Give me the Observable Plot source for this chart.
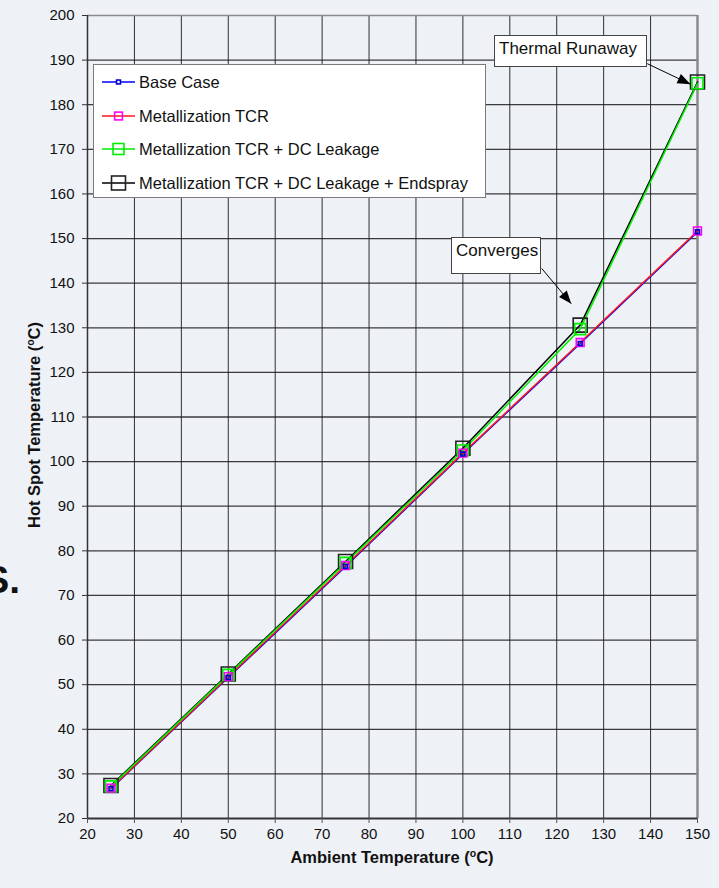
<!DOCTYPE html>
<html>
<head>
<meta charset="utf-8">
<script src="https://cdn.jsdelivr.net/npm/d3@7"></script>
<script src="https://cdn.jsdelivr.net/npm/@observablehq/plot@0.6"></script>
<style>
  html, body { margin: 0; padding: 0; background: #eef2f7; }
  #wrap { position: relative; width: 719px; height: 888px; overflow: hidden; font-family: "Liberation Sans", Arial, sans-serif; }
  #wrap svg.plot { position: absolute; left: 0; top: 0; }
  .box { position: absolute; background: #fff; border: 1px solid #444; box-sizing: border-box; color: #111; font-size: 17px; line-height: 20px; padding: 3px 0 0 4px; white-space: nowrap; }
  #legend { position: absolute; left: 93px; top: 64px; width: 393px; height: 134px; background: #fff; border: 1.5px solid #7a7a7a; box-sizing: border-box; }
  .item { position: absolute; left: 8px; height: 20px; display: flex; align-items: center; font-size: 16.5px; color: #111; white-space: nowrap; }
  .item svg { margin-right: 4px; }
  .title { position: absolute; font-weight: bold; font-size: 16.5px; color: #111; white-space: nowrap; }
  .title sup { font-size: 10.5px; vertical-align: 6px; }
</style>
</head>
<body>
<div id="wrap"></div>
<script>
// ---- data ----
const ambient = [25, 50, 75, 100, 125, 150];
const baseCase = [26.7, 51.6, 76.5, 101.7, 126.5, 151.5];
const metallizationTCR = [26.8, 51.8, 76.7, 101.9, 126.7, 151.7];
const tcrLeakage = [27.2, 52.2, 77.3, 102.5, 129.7, 184.8];
const tcrLeakageEndspray = [27.4, 52.4, 77.6, 103.0, 130.6, 185.1];

const seriesNames = ["Base Case", "Metallization TCR", "Metallization TCR + DC Leakage", "Metallization TCR + DC Leakage + Endspray"];
const seriesValues = [baseCase, metallizationTCR, tcrLeakage, tcrLeakageEndspray];
const lineColors = ["#0000ff", "#ff1a1a", "#00ee00", "#000000"];
const markerColors = ["#0000cc", "#ff00ff", "#00ee00", "#222222"];
const markerR = [2.2, 4.4, 6.2, 7.9];

const xTicks = [20, 30, 40, 50, 60, 70, 80, 90, 100, 110, 120, 130, 140, 150];
const yTicks = [20, 30, 40, 50, 60, 70, 80, 90, 100, 110, 120, 130, 140, 150, 160, 170, 180, 190, 200];

const annotationLabels = ["Thermal Runaway", "Converges"];
const arrows = [
  {x1: 139.3, y1: 189.2, x2: 148.5, y2: 184.6},
  {x1: 116.8, y1: 143.3, x2: 123.1, y2: 135.4}
];

// build tables
const tables = seriesValues.map((vals, i) => ambient.map((a, j) => ({x: a, y: vals[j], series: seriesNames[i]})));

const lineOrder = [0, 1, 3, 2];
const dotOrder = [3, 2, 1, 0];

const plot = Plot.plot({
  width: 719,
  height: 888,
  marginLeft: 87,
  marginRight: 22,
  marginTop: 15,
  marginBottom: 70,
  style: {background: "transparent", fontFamily: "'Liberation Sans', Arial, sans-serif", fontSize: "15px", color: "#111", overflow: "visible"},
  x: {domain: [20, 150]},
  y: {domain: [20, 200]},
  marks: [
    Plot.gridX(xTicks.filter(d => d > 20 && d < 150), {stroke: "#1a1a1a", strokeOpacity: 0.9, strokeWidth: 1}),
    Plot.gridY(yTicks.filter(d => d > 20 && d < 200), {stroke: "#1a1a1a", strokeOpacity: 0.85, strokeWidth: 1.3}),
    Plot.ruleY([200], {stroke: "#8a8a8a", strokeWidth: 1.5}),
    Plot.ruleX([150], {stroke: "#8a8a8a", strokeWidth: 2.5}),
    Plot.ruleY([20], {stroke: "#333", strokeWidth: 2}),
    Plot.ruleX([20], {stroke: "#333", strokeWidth: 1.5}),
    Plot.axisX({ticks: xTicks, tickSize: 5, tickPadding: 5, label: null, tickFormat: d => d, stroke: "#555"}),
    Plot.axisY({ticks: yTicks, tickSize: 5, tickPadding: 8, label: null, tickFormat: d => d, stroke: "#333"}),
    ...lineOrder.map(i => Plot.line(tables[i], {x: "x", y: "y", stroke: lineColors[i], strokeWidth: 1.5})),
    ...dotOrder.map(i => Plot.dot(tables[i], {x: "x", y: "y", symbol: "square", r: markerR[i], stroke: markerColors[i], strokeWidth: 1.6, fill: "none"})),
    Plot.link(arrows, {x1: "x1", y1: "y1", x2: "x2", y2: "y2", stroke: "#000", strokeWidth: 1})
  ]
});
plot.classList.add("plot");

// filled arrow heads
const ns = "http://www.w3.org/2000/svg";
const defs = document.createElementNS(ns, "defs");
const marker = document.createElementNS(ns, "marker");
marker.setAttribute("id", "arrowFill");
marker.setAttribute("markerUnits", "userSpaceOnUse");
marker.setAttribute("markerWidth", "16");
marker.setAttribute("markerHeight", "12");
marker.setAttribute("viewBox", "-14 -6 16 12");
marker.setAttribute("refX", "0");
marker.setAttribute("refY", "0");
marker.setAttribute("orient", "auto");
const mp = document.createElementNS(ns, "path");
mp.setAttribute("d", "M0,0L-13,-5L-13,5Z");
mp.setAttribute("fill", "#000");
marker.appendChild(mp);
defs.appendChild(marker);
plot.insertBefore(defs, plot.firstChild);
plot.querySelectorAll('g[aria-label="link"] path').forEach(p => p.setAttribute("marker-end", "url(#arrowFill)"));

const wrap = document.getElementById("wrap");
wrap.appendChild(plot);

// legend
const legend = document.createElement("div");
legend.id = "legend";
const legendTops = [7, 41, 74, 108];
seriesNames.forEach((name, i) => {
  const it = document.createElement("div");
  it.className = "item";
  it.style.top = legendTops[i] + "px";
  const s = markerR[i] * 1.772;
  it.innerHTML = `<svg width="33" height="20"><line x1="0" y1="10" x2="33" y2="10" stroke="${lineColors[i]}" stroke-width="1.5"/><rect x="${16.5 - s / 2}" y="${10 - s / 2}" width="${s}" height="${s}" fill="${i === 0 ? '#fff' : 'none'}" stroke="${markerColors[i]}" stroke-width="1.6"/></svg><span>${name}</span>`;
  legend.appendChild(it);
});
wrap.appendChild(legend);

// annotation boxes
const b1 = document.createElement("div");
b1.className = "box";
Object.assign(b1.style, {left: "494px", top: "35px", width: "153px", height: "32px"});
b1.textContent = annotationLabels[0];
wrap.appendChild(b1);
const b2 = document.createElement("div");
b2.className = "box";
Object.assign(b2.style, {left: "451px", top: "237px", width: "90px", height: "37px"});
b2.textContent = annotationLabels[1];
wrap.appendChild(b2);

// axis titles
const xt = document.createElement("div");
xt.className = "title";
xt.innerHTML = "Ambient Temperature (<sup>o</sup>C)";
Object.assign(xt.style, {left: "392px", top: "847px", transform: "translateX(-50%)"});
wrap.appendChild(xt);
const yt = document.createElement("div");
yt.className = "title";
yt.innerHTML = "Hot Spot Temperature (<sup>o</sup>C)";
Object.assign(yt.style, {left: "34px", top: "425px", transform: "translate(-50%, -50%) rotate(-90deg)"});
wrap.appendChild(yt);

// cut-off slide text at left edge (as in the reference)
const st = document.createElement("div");
st.textContent = "S.";
Object.assign(st.style, {position: "absolute", right: "699px", top: "558px", fontWeight: "bold", fontSize: "39px", lineHeight: "44px", color: "#111"});
wrap.appendChild(st);
</script>
</body>
</html>
